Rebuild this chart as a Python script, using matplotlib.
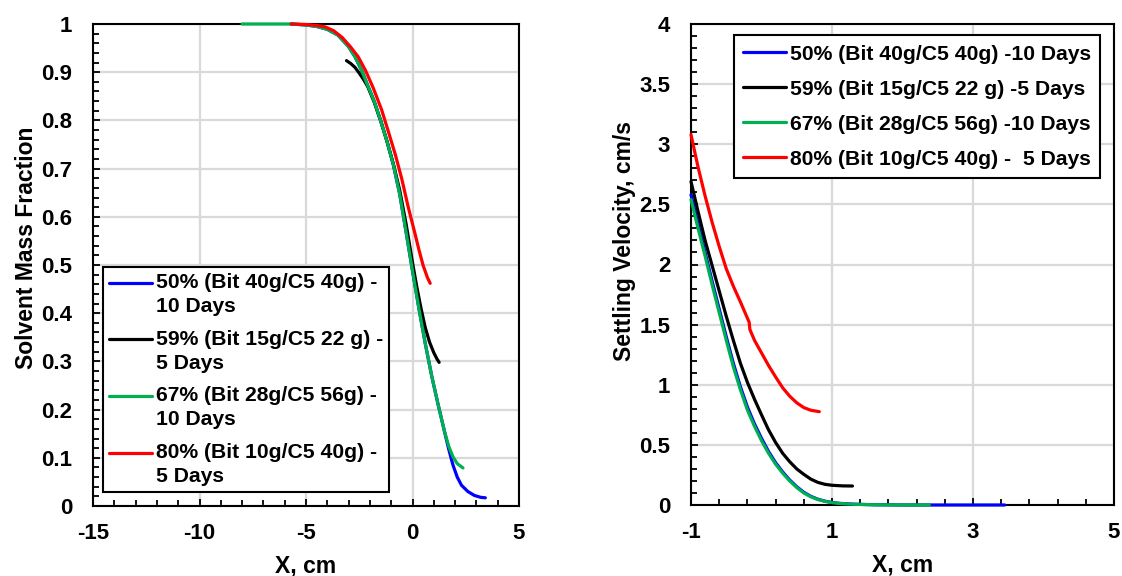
import numpy as np
import matplotlib
matplotlib.use("Agg")
import matplotlib.pyplot as plt
from matplotlib.ticker import MultipleLocator, FixedLocator, FuncFormatter
from matplotlib.legend_handler import HandlerLine2D

plt.rcParams['font.family'] = ['Liberation Sans', 'DejaVu Sans']
plt.rcParams['font.weight'] = 'bold'
plt.rcParams['axes.unicode_minus'] = False

# series names and colours
names_left = ['50% (Bit 40g/C5 40g) -\n10 Days', '59% (Bit 15g/C5 22 g) -\n5 Days',
              '67% (Bit 28g/C5 56g) -\n10 Days', '80% (Bit 10g/C5 40g) -\n5 Days']
names_right = ['50% (Bit 40g/C5 40g) -10 Days', '59% (Bit 15g/C5 22 g) -5 Days',
               '67% (Bit 28g/C5 56g) -10 Days', '80% (Bit 10g/C5 40g) -  5 Days']
colors = ['#0000FF', '#000000', '#00B050', '#FF0000']

# left panel: solvent mass fraction vs X (cm)
x50_l = [-5.7, -5.0, -4.5, -4.0, -3.5, -3.0, -2.7, -2.4, -2.1, -1.8, -1.5, -1.2, -0.9, -0.6, -0.3,
         0.0, 0.3, 0.6, 0.9, 1.2, 1.5, 1.7, 1.9, 2.1, 2.3, 2.6, 2.9, 3.2, 3.42]
y50_l = [1.0, 0.998, 0.995, 0.989, 0.977, 0.953, 0.932, 0.905, 0.872, 0.84, 0.8, 0.757, 0.708, 0.647, 0.568,
         0.488, 0.41, 0.337, 0.27, 0.211, 0.155, 0.118, 0.085, 0.06, 0.043, 0.03, 0.022, 0.018, 0.017]
x59_l = [-3.1, -2.9, -2.7, -2.5, -2.3, -2.1, -1.8, -1.5, -1.2, -0.9, -0.6, -0.3, 0.0, 0.2, 0.4, 0.6,
         0.8, 1.0, 1.15, 1.25]
y59_l = [0.924, 0.918, 0.91, 0.898, 0.885, 0.87, 0.838, 0.8, 0.757, 0.71, 0.655, 0.585, 0.505, 0.455,
         0.41, 0.37, 0.34, 0.318, 0.305, 0.298]
x67_l = [-8.0, -5.7, -5.0, -4.5, -4.0, -3.5, -3.0, -2.7, -2.4, -2.1, -1.8, -1.5, -1.2, -0.9, -0.6, -0.3,
         0.0, 0.3, 0.6, 0.9, 1.2, 1.5, 1.7, 1.9, 2.1, 2.37]
y67_l = [1.0, 1.0, 0.998, 0.995, 0.989, 0.977, 0.953, 0.932, 0.905, 0.872, 0.84, 0.8, 0.757, 0.708, 0.647, 0.568,
         0.488, 0.41, 0.337, 0.27, 0.211, 0.155, 0.124, 0.102, 0.088, 0.079]
x80_l = [-5.7, -5.0, -4.5, -4.1, -3.7, -3.3, -2.9, -2.55, -2.2, -1.85, -1.45, -1.1, -0.8, -0.5, -0.2,
         0.1, 0.3, 0.5, 0.7, 0.83]
y80_l = [1.0, 0.999, 0.997, 0.994, 0.986, 0.972, 0.952, 0.932, 0.903, 0.868, 0.822, 0.772, 0.728, 0.678,
         0.62, 0.568, 0.532, 0.499, 0.474, 0.462]

# right panel: settling velocity (cm/s) vs X (cm)
x50_r = [-1.0, -0.9, -0.8, -0.7, -0.6, -0.5, -0.4, -0.3, -0.2, -0.1, 0.0, 0.1, 0.2, 0.3, 0.4, 0.5, 0.6,
         0.7, 0.8, 0.9, 1.0, 1.1, 1.3, 1.6, 2.0, 2.5, 3.45]
y50_r = [2.58, 2.34, 2.1, 1.86, 1.63, 1.4, 1.18, 0.985, 0.815, 0.675, 0.555, 0.445, 0.352, 0.275, 0.208,
         0.152, 0.106, 0.072, 0.048, 0.032, 0.021, 0.014, 0.007, 0.002, 0.0, 0.0, 0.0]
x59_r = [-1.0, -0.9, -0.8, -0.7, -0.6, -0.5, -0.4, -0.3, -0.2, -0.1, 0.0, 0.1, 0.2, 0.3, 0.4, 0.5, 0.6,
         0.7, 0.8, 0.9, 1.0, 1.15, 1.29]
y59_r = [2.69, 2.44, 2.2, 1.99, 1.78, 1.57, 1.37, 1.18, 1.02, 0.88, 0.75, 0.625, 0.52, 0.43, 0.36, 0.3,
         0.255, 0.215, 0.188, 0.172, 0.164, 0.159, 0.158]
x67_r = [-1.0, -0.9, -0.8, -0.7, -0.6, -0.5, -0.4, -0.3, -0.2, -0.1, 0.0, 0.1, 0.2, 0.3, 0.4, 0.5, 0.6,
         0.7, 0.8, 0.9, 1.0, 1.1, 1.3, 1.6, 2.0, 2.38]
y67_r = [2.54, 2.3, 2.07, 1.83, 1.6, 1.37, 1.15, 0.96, 0.79, 0.655, 0.535, 0.43, 0.34, 0.265, 0.2, 0.145,
         0.1, 0.068, 0.045, 0.03, 0.02, 0.013, 0.006, 0.002, 0.0, 0.0]
x80_r = [-1.0, -0.9, -0.8, -0.7, -0.6, -0.5, -0.4, -0.3, -0.175, -0.165, -0.1, 0.0, 0.1, 0.2, 0.3, 0.4,
         0.5, 0.6, 0.7, 0.82]
y80_r = [3.08, 2.81, 2.57, 2.35, 2.15, 1.965, 1.82, 1.69, 1.52, 1.46, 1.37, 1.265, 1.16, 1.065, 0.975,
         0.905, 0.85, 0.81, 0.788, 0.776]

left_series = [(x50_l, y50_l), (x59_l, y59_l), (x67_l, y67_l), (x80_l, y80_l)]
right_series = [(x50_r, y50_r), (x59_r, y59_r), (x67_r, y67_r), (x80_r, y80_r)]

FS_TICK = 16
FS_LEG = 15.2
FS_LAB = 16.5


class FirstLineHandler(HandlerLine2D):
    # put the legend line next to the first text line, like Excel does
    def create_artists(self, legend, orig_handle, xdescent, ydescent, width, height, fontsize, trans):
        arts = super().create_artists(legend, orig_handle, xdescent, ydescent, width, height, fontsize, trans)
        for a in arts:
            a.set_ydata(np.asarray(a.get_ydata()) + 0.56 * fontsize)
        return arts


def fmt(v, pos):
    return '%g' % round(v, 2)


def style_axes(ax):
    for s in ax.spines.values():
        s.set_linewidth(1.5)
        s.set_color('black')
    ax.grid(True, which='major', color='#d9d9d9', linewidth=1.6)
    ax.set_axisbelow(True)
    ax.tick_params(which='both', direction='in', width=1.3, colors='black', labelsize=FS_TICK)
    ax.tick_params(which='major', length=5)
    ax.tick_params(which='minor', length=4.5)
    ax.tick_params(axis='x', pad=12)
    ax.tick_params(axis='y', pad=15)
    ax.xaxis.set_major_formatter(FuncFormatter(fmt))
    ax.yaxis.set_major_formatter(FuncFormatter(fmt))


fig = plt.figure(figsize=(11.22, 5.76), dpi=100)
ax1 = fig.add_axes([93 / 1122, 70 / 576, 426 / 1122, 482 / 576])
ax2 = fig.add_axes([691 / 1122, 71 / 576, 423 / 1122, 481 / 576])

for (x, y), c, n in zip(left_series, colors, names_left):
    ax1.plot(x, y, color=c, linewidth=2.3, label=n, solid_capstyle='round', zorder=3, clip_on=False)
ax1.set_xlim(-15, 5)
ax1.set_ylim(0, 1)
ax1.xaxis.set_major_locator(MultipleLocator(5))
ax1.xaxis.set_minor_locator(MultipleLocator(1))
ax1.yaxis.set_major_locator(MultipleLocator(0.1))
ax1.yaxis.set_minor_locator(MultipleLocator(0.02))
style_axes(ax1)
ax1.set_xlabel('X, cm', fontsize=FS_LAB, fontweight='bold')
ax1.set_ylabel('Solvent Mass Fraction', fontsize=FS_LAB, fontweight='bold')
ax1.xaxis.set_label_coords(0.5, -0.1)
ax1.yaxis.set_label_coords(-0.13, 0.535)

leg1 = ax1.legend(loc='lower left', bbox_to_anchor=(0.0235, 0.029), borderaxespad=0,
                  fontsize=FS_LEG, frameon=True, fancybox=False, framealpha=1,
                  edgecolor='black', handlelength=2.0, handletextpad=0.2,
                  labelspacing=0.66, borderpad=0.3,
                  handler_map={matplotlib.lines.Line2D: FirstLineHandler()})
leg1.get_frame().set_linewidth(1.5)
leg1.set_zorder(5)
for t in leg1.get_texts():
    t.set_linespacing(1.31)

for (x, y), c, n in zip(right_series, colors, names_right):
    ax2.plot(x, y, color=c, linewidth=2.3, label=n, solid_capstyle='round', zorder=3, clip_on=False)
ax2.set_xlim(-1, 5)
ax2.set_ylim(0, 4)
ax2.xaxis.set_major_locator(FixedLocator([-1, 1, 3, 5]))
ax2.xaxis.set_minor_locator(FixedLocator(np.arange(-1, 5.01, 0.4)))
ax2.yaxis.set_major_locator(MultipleLocator(0.5))
ax2.yaxis.set_minor_locator(MultipleLocator(0.1))
style_axes(ax2)
ax2.set_xlabel('X, cm', fontsize=FS_LAB, fontweight='bold')
ax2.set_ylabel('Settling Velocity, cm/s', fontsize=FS_LAB, fontweight='bold')
ax2.xaxis.set_label_coords(0.5, -0.1)
ax2.yaxis.set_label_coords(-0.13, 0.549)

leg2 = ax2.legend(loc='upper right', bbox_to_anchor=(0.968, 0.977), borderaxespad=0,
                  fontsize=FS_LEG, frameon=True, fancybox=False, framealpha=1,
                  edgecolor='black', handlelength=2.0, handletextpad=0.2,
                  labelspacing=0.76, borderpad=0.45)
leg2.get_frame().set_linewidth(1.5)
leg2.set_zorder(5)

fig.savefig('out.png', dpi=100)
